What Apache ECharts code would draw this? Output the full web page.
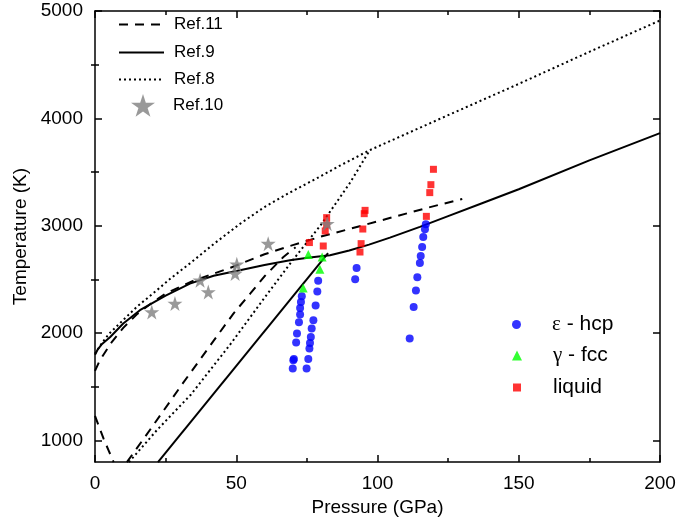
<!DOCTYPE html>
<html><head><meta charset="utf-8">
<script src="https://cdn.jsdelivr.net/npm/echarts@6/dist/echarts.min.js"></script>
<style>html,body{margin:0;padding:0;background:#fff}#c{width:680px;height:522px}</style>
</head><body><div id="c"></div>
<script>
// ---- data (Pressure GPa, Temperature K) ----
var ref11MeltP = [0, 1.5, 3, 6, 10, 15, 20, 25, 35, 48, 60, 70, 80, 90, 104, 118, 130];
var ref11MeltT = [1650, 1735, 1800, 1920, 2050, 2180, 2280, 2370, 2490, 2610, 2735, 2820, 2900, 2970, 3070, 3170, 3250];
var ref11GEP = [11.3, 20, 31, 43, 49, 55, 60, 66.7, 71];
var ref11GET = [800, 1120, 1530, 1966, 2183, 2370, 2530, 2710, 2800];
var ref11AGP = [0, 1.5, 3, 4.8, 6.6];
var ref11AGT = [1230, 1125, 1020, 910, 800];

var ref9MeltP = [0, 1, 2.5, 5.3, 10, 15.9, 25, 33.6, 42, 51.3, 60, 69, 76, 83.2, 90, 97, 104.4, 115, 125, 137, 150, 175, 200];
var ref9MeltT = [1800, 1850, 1900, 1963, 2090, 2214, 2350, 2462, 2535, 2586, 2635, 2679, 2705, 2726, 2770, 2825, 2890, 2990, 3090, 3210, 3340, 3609, 3863];
var ref9GEP = [22.3, 82.5];
var ref9GET = [800, 2745];

var ref8MeltP = [0, 2.5, 5, 9.9, 15, 21.9, 27, 33.6, 42, 51.3, 60, 69, 78, 86.7, 97.3, 125, 150.4, 175, 200];
var ref8MeltT = [1810, 1910, 1995, 2121, 2250, 2400, 2515, 2650, 2830, 3018, 3175, 3310, 3435, 3560, 3705, 4030, 4326, 4620, 4912];
var ref8GEP = [12, 22, 34, 48, 60, 70, 80, 90, 97.3];
var ref8GET = [800, 1100, 1430, 1900, 2330, 2680, 3010, 3390, 3705];

var ref10P = [20.1, 28.3, 37.2, 40.1, 49.6, 50.2, 61.3, 82.2];
var ref10T = [2198, 2276, 2493, 2384, 2555, 2642, 2834, 3020];

var hcpP = [73.2, 72.9, 72.6, 72.6, 72.2, 71.5, 71.2, 70.4, 70.2, 70.0,
            79.0, 78.7, 78.1, 77.3, 76.7, 76.4, 76.1, 75.9, 75.5, 74.9,
            92.6, 92.1,
            117.1, 116.8, 116.2, 115.8, 115.3, 115.0, 114.1, 113.6, 112.8, 111.4];
var hcpT = [2344, 2291, 2235, 2174, 2102, 1997, 1914, 1761, 1749, 1672,
            2488, 2388, 2258, 2121, 2043, 1965, 1910, 1858, 1761, 1672,
            2607, 2502,
            3014, 2967, 2896, 2803, 2719, 2654, 2521, 2397, 2245, 1951];

var fccP = [75.5, 80.4, 79.6, 73.7];
var fccT = [2732, 2710, 2595, 2421];

var liqP = [75.9, 80.8, 81.5, 82.0, 82.0, 95.6, 95.3, 94.8, 94.2, 93.8, 119.8, 118.9, 118.5, 117.3];
var liqT = [2844, 2812, 2952, 3010, 3076, 3144, 3113, 2970, 2834, 2756, 3526, 3383, 3309, 3088];

var yTicksMajor = [1000, 2000, 3000, 4000, 5000];
var yTicksMinor = [1500, 2500, 3500, 4500];

function zip(a, b) { return a.map(function (v, i) { return [v, b[i]]; }); }

var STAR = 'path://M50,0 L61.2,34.5 L97.6,34.5 L68.2,55.9 L79.4,90.5 L50,69.1 L20.6,90.5 L31.8,55.9 L2.4,34.5 L38.8,34.5 Z';
var FONT = '"Liberation Sans", Arial, sans-serif';

var dash = { color: '#000', width: 2, type: [9, 7] };
var solid = { color: '#000', width: 2, type: 'solid' };
var dot = { color: '#000', width: 2, type: [2, 3] };

function lineS(name, P, T, ls) {
  return { name: name, type: 'line', data: zip(P, T), symbol: 'none', smooth: false,
    lineStyle: ls, itemStyle: { color: '#000' }, z: 3, animation: false, clip: true };
}

var series = [
  lineS('Ref.11', ref11MeltP, ref11MeltT, dash),
  lineS('Ref.11', ref11GEP, ref11GET, dash),
  lineS('Ref.11', ref11AGP, ref11AGT, dash),
  lineS('Ref.9', ref9MeltP, ref9MeltT, solid),
  lineS('Ref.9', ref9GEP, ref9GET, solid),
  lineS('Ref.8', ref8MeltP, ref8MeltT, dot),
  lineS('Ref.8', ref8GEP, ref8GET, dot),
  { name: 'ε - hcp', type: 'scatter', data: zip(hcpP, hcpT), symbol: 'circle', symbolSize: 8, itemStyle: { color: '#0000ff' }, z: 5, animation: false },
  { name: 'γ - fcc', type: 'scatter', data: zip(fccP, fccT), symbol: 'triangle', symbolSize: 9, itemStyle: { color: '#00ff00' }, z: 5, animation: false },
  { name: 'liquid', type: 'scatter', data: zip(liqP, liqT), symbol: 'rect', symbolSize: 7, itemStyle: { color: '#ff0000' }, z: 5, animation: false },
  { name: 'Ref.10', type: 'scatter', data: zip(ref10P, ref10T), symbol: STAR, symbolSize: 15, itemStyle: { color: '#808080' }, z: 6, animation: false }
];

var axisLine = { show: true, onZero: false, lineStyle: { color: '#000', width: 1.5 } };
var noFmt = function (v) { return String(v); };

function legendItem(name, left, top, w, h, extra) {
  var l = {
    data: [name], left: left, top: top, itemWidth: w, itemHeight: h, padding: 0,
    selectedMode: false,
    textStyle: { fontFamily: FONT, fontSize: 17, color: '#000' }
  };
  for (var k in extra) l[k] = extra[k];
  return l;
}
var hideSym = { color: 'rgba(0,0,0,0)', borderColor: 'rgba(0,0,0,0)', borderWidth: 0 };
var refText = { fontFamily: FONT, fontSize: 17, color: '#000', padding: [0, 0, 0, 5] };

var greek = {
  fontFamily: FONT, fontSize: 21, color: '#000', padding: [0, 0, 0, 26],
  rich: { g: { fontFamily: '"Liberation Serif", "DejaVu Serif", serif', fontSize: 21, color: '#000' } }
};

var option = {
  backgroundColor: '#fff',
  animation: false,
  grid: { left: 95, right: 20, top: 11, bottom: 59, containLabel: false },
  legend: [
    legendItem('Ref.11', 118, 16, 45, 14, { itemStyle: hideSym, textStyle: refText }),
    legendItem('Ref.9', 118, 44, 45, 14, { itemStyle: hideSym, textStyle: refText }),
    legendItem('Ref.8', 118, 71, 45, 14, { itemStyle: hideSym, textStyle: refText }),
    legendItem('Ref.10', 131, 94, 24, 24, { data: [{ name: 'Ref.10', icon: STAR }], textStyle: { fontFamily: FONT, fontSize: 17, color: '#000', padding: [0, 0, 0, 13] } }),
    legendItem('ε - hcp', 512, 314, 9, 9, {
      data: [{ name: 'ε - hcp', icon: 'circle' }],
      formatter: function () { return '{g|ε} - hcp'; }, textStyle: greek
    }),
    legendItem('γ - fcc', 512, 345, 10, 10, {
      data: [{ name: 'γ - fcc', icon: 'triangle' }],
      formatter: function () { return '{g|γ} - fcc'; }, textStyle: greek
    }),
    legendItem('liquid', 513, 377, 8, 8, {
      data: [{ name: 'liquid', icon: 'rect' }],
      textStyle: { fontFamily: FONT, fontSize: 21, color: '#000', padding: [0, 0, 0, 27] }
    })
  ],
  xAxis: [
    {
      type: 'value', min: 0, max: 200, interval: 50, position: 'bottom',
      name: 'Pressure (GPa)', nameLocation: 'middle', nameGap: 33,
      nameTextStyle: { fontFamily: FONT, fontSize: 19, color: '#000' },
      axisLine: axisLine,
      axisTick: { show: true, inside: true, length: 7, lineStyle: { color: '#000', width: 1.5 } },
      minorTick: { show: true, splitNumber: 2, length: 4, lineStyle: { color: '#000', width: 1.5 } },
      axisLabel: { fontFamily: FONT, fontSize: 19, color: '#000', margin: 12, formatter: noFmt },
      splitLine: { show: false }
    },
    {
      type: 'value', min: 0, max: 200, interval: 50, position: 'top',
      axisLine: axisLine,
      axisTick: { show: true, inside: true, length: 7, lineStyle: { color: '#000', width: 1.5 } },
      minorTick: { show: true, splitNumber: 2, length: 4, lineStyle: { color: '#000', width: 1.5 } },
      axisLabel: { show: false }, splitLine: { show: false }
    }
  ],
  yAxis: [
    {
      type: 'value', min: 800, max: 5000, position: 'left',
      name: 'Temperature (K)', nameLocation: 'middle', nameGap: 60,
      nameTextStyle: { fontFamily: FONT, fontSize: 19, color: '#000' },
      axisLine: axisLine,
      axisTick: { show: true, inside: true, length: 7, customValues: yTicksMajor, lineStyle: { color: '#000', width: 1.5 } },
      axisLabel: { fontFamily: FONT, fontSize: 19, color: '#000', margin: 12, customValues: yTicksMajor, formatter: noFmt },
      splitLine: { show: false }
    },
    {
      type: 'value', min: 800, max: 5000, position: 'left',
      axisLine: { show: false },
      axisTick: { show: true, inside: true, length: 4, customValues: yTicksMinor, lineStyle: { color: '#000', width: 1.5 } },
      axisLabel: { show: false }, splitLine: { show: false }
    },
    {
      type: 'value', min: 800, max: 5000, position: 'right',
      axisLine: axisLine,
      axisTick: { show: true, inside: true, length: 7, customValues: yTicksMajor, lineStyle: { color: '#000', width: 1.5 } },
      axisLabel: { show: false }, splitLine: { show: false }
    },
    {
      type: 'value', min: 800, max: 5000, position: 'right',
      axisLine: { show: false },
      axisTick: { show: true, inside: true, length: 4, customValues: yTicksMinor, lineStyle: { color: '#000', width: 1.5 } },
      axisLabel: { show: false }, splitLine: { show: false }
    }
  ],
  series: series
};

var chart = echarts.init(document.getElementById('c'), null, { renderer: 'canvas' });
chart.setOption(option);
</script>
</body></html>
